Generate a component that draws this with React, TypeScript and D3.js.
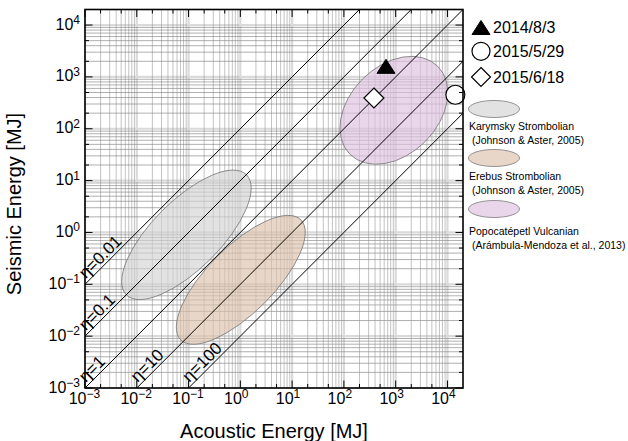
import React from "react";
import * as d3 from "d3";

// eta = acoustic / seismic efficiency ratio lines
const etaValues = [0.01, 0.1, 1, 10, 100];
const etaLabels = ["η=0.01", "η=0.1", "η=1", "η=10", "η=100"];

// observed events
const eventNames = ["2014/8/3", "2015/5/29", "2015/6/18"];
const eventAcoustic = [650, 14200, 380];
const eventSeismic = [1600, 453, 392];
const eventSymbols = ["triangle", "circle", "diamond"];

// eruption type regions (ellipses in log-log space)
const regionNames = ["Karymsky Strombolian", "Erebus Strombolian", "Popocatépetl Vulcanian"];
const regionRefs = [" (Johnson & Aster, 2005)", " (Johnson & Aster, 2005)", " (Arámbula-Mendoza et al., 2013)"];
const regionCenterAcoustic = [0.091, 1.02, 922];
const regionCenterSeismic = [0.9, 0.122, 227];
const regionMajor = [1.64, 1.64, 1.2]; // semi axis, decades
const regionMinor = [0.66, 0.64, 0.855];
const regionAngle = [45, 45, 45];
const regionFill = ["#d2d2d2", "#dcc2ab", "#dec0de"];

const xTickExps = [-3, -2, -1, 0, 1, 2, 3, 4];
const yTickExps = [-3, -2, -1, 0, 1, 2, 3, 4];

const W = 628;
const H = 441;
const left = 85, right = 463, top = 9.5, bottom = 388;
const font = "'Liberation Sans', Arial, Helvetica, sans-serif";

const supText = (e: number) => (e < 0 ? "\u2212" + Math.abs(e) : String(e));

export default function App() {
  const maxV = Math.pow(10, 4.3);
  const x = d3.scaleLog().domain([1e-3, maxV]).range([left, right]);
  const y = d3.scaleLog().domain([1e-3, maxV]).range([bottom, top]);
  const pxDec = x(10) - x(1);

  const gridVals: { v: number; major: boolean }[] = [];
  for (let e = -3; e <= 4; e++) {
    for (let m = 1; m <= 9; m++) {
      const v = m * Math.pow(10, e);
      if (v <= maxV) gridVals.push({ v, major: m === 1 });
    }
  }
  const tickVals: { v: number; major: boolean }[] = [];
  for (let e = -3; e <= 4; e++) {
    [1, 2, 5].forEach((m) => {
      const v = m * Math.pow(10, e);
      if (v <= maxV) tickVals.push({ v, major: m === 1 });
    });
  }

  const line = d3
    .line<[number, number]>()
    .x((d) => x(d[0]))
    .y((d) => y(d[1]));

  const marker = (sym: string, cx: number, cy: number, s: number) => {
    if (sym === "triangle")
      return <path d={`M${cx},${cy - 0.78 * s}L${cx + s},${cy + 0.78 * s}L${cx - s},${cy + 0.78 * s}Z`} fill="#000" stroke="#000" strokeWidth={1} />;
    if (sym === "circle") return <circle cx={cx} cy={cy} r={s} fill="#fff" stroke="#000" strokeWidth={1.2} />;
    return <path d={`M${cx},${cy - s}L${cx + s},${cy}L${cx},${cy + s}L${cx - s},${cy}Z`} fill="#fff" stroke="#000" strokeWidth={1.2} />;
  };

  const legendMarkerY = [27.5, 51.3, 77];
  const legendSwatchY = [109, 158, 209];
  const legendTextY = [129.5, 179.5, 234.5];

  return (
    <svg width={W} height={H} style={{ position: "absolute", left: 0, top: 0, background: "#fff" }} fontFamily={font}>
      <defs>
        <clipPath id="plotClip">
          <rect x={left} y={top} width={right - left} height={bottom - top} />
        </clipPath>
      </defs>
      <rect width={W} height={H} fill="#fff" />

      {/* grid */}
      <g>
        {gridVals.filter((d) => d.major).map((d, i) => (
          <g key={"M" + i}>
            <line x1={x(d.v)} x2={x(d.v)} y1={top} y2={bottom} stroke="#dadada" strokeWidth={2.2} />
            <line x1={left} x2={right} y1={y(d.v)} y2={y(d.v)} stroke="#dadada" strokeWidth={2.2} />
          </g>
        ))}
        {gridVals.filter((d) => !d.major).map((d, i) => (
          <g key={"m" + i}>
            <line x1={x(d.v)} x2={x(d.v)} y1={top} y2={bottom} stroke="#9a9a9a" strokeWidth={0.6} />
            <line x1={left} x2={right} y1={y(d.v)} y2={y(d.v)} stroke="#7a7a7a" strokeWidth={0.6} />
          </g>
        ))}
      </g>

      {/* regions */}
      <g clipPath="url(#plotClip)">
        {regionNames.map((n, i) => (
          <ellipse
            key={n}
            cx={0}
            cy={0}
            rx={regionMajor[i] * pxDec}
            ry={regionMinor[i] * pxDec}
            transform={`translate(${x(regionCenterAcoustic[i])},${y(regionCenterSeismic[i])}) rotate(${-regionAngle[i]})`}
            fill={regionFill[i]}
            fillOpacity={0.65}
            stroke="#7a7a7a"
            strokeWidth={0.8}
          />
        ))}
      </g>

      {/* eta lines */}
      <g clipPath="url(#plotClip)">
        {etaValues.map((eta) => (
          <path
            key={eta}
            d={line([
              [1e-4, 1e-4 / eta],
              [1e6, 1e6 / eta],
            ]) as string}
            fill="none"
            stroke="#000"
            strokeWidth={1}
          />
        ))}
      </g>
      {etaValues.map((eta, i) => {
        const ex = eta <= 1 ? 1e-3 : 1e-3 * eta;
        const ey = ex / eta;
        return (
          <text
            key={"l" + eta}
            transform={`translate(${x(ex)},${y(ey)}) rotate(-45)`}
            x={4}
            y={-3}
            fontSize={17}
            fill="#000"
          >
            {etaLabels[i]}
          </text>
        );
      })}

      {/* events */}
      {eventNames.map((n, i) => (
        <g key={n}>{marker(eventSymbols[i], x(eventAcoustic[i]), y(eventSeismic[i]), eventSymbols[i] === "triangle" ? 9 : eventSymbols[i] === "circle" ? 9.5 : 10)}</g>
      ))}

      {/* frame and ticks */}
      <g stroke="#000">
        {tickVals.map((d, i) => {
          const len = d.major ? 7.5 : 4;
          return (
            <g key={"t" + i} strokeWidth={1}>
              <line x1={x(d.v)} x2={x(d.v)} y1={bottom} y2={bottom - len} />
              <line x1={x(d.v)} x2={x(d.v)} y1={top} y2={top + len} />
              <line x1={left} x2={left + len} y1={y(d.v)} y2={y(d.v)} />
              <line x1={right} x2={right - len} y1={y(d.v)} y2={y(d.v)} />
            </g>
          );
        })}
        <rect x={left} y={top} width={right - left} height={bottom - top} fill="none" strokeWidth={1.6} />
      </g>

      {/* tick labels */}
      {xTickExps.map((e) => (
        <g key={"xl" + e} fill="#000">
          <text x={x(Math.pow(10, e)) + 1.5} y={bottom + 16} fontSize={16} textAnchor="end">10</text>
          <text x={x(Math.pow(10, e)) + 1.5} y={bottom + 9.5} fontSize={12}>{supText(e)}</text>
        </g>
      ))}
      {yTickExps.map((e) => (
        <text key={"yl" + e} x={80} y={y(Math.pow(10, e)) + 4.5} fontSize={16} textAnchor="end" fill="#000">
          <tspan>10</tspan>
          <tspan dy={-5.5} fontSize={12}>{supText(e)}</tspan>
        </text>
      ))}

      {/* axis titles */}
      <text x={274} y={438} fontSize={20} textAnchor="middle" fill="#000">Acoustic Energy [MJ]</text>
      <text transform="translate(21,204) rotate(-90)" fontSize={20} textAnchor="middle" fill="#000">Seismic Energy [MJ]</text>

      {/* legend */}
      {eventNames.map((n, i) => (
        <g key={"le" + n}>
          {marker(eventSymbols[i], 481, legendMarkerY[i], eventSymbols[i] === "triangle" ? 9 : eventSymbols[i] === "circle" ? 9 : 9.5)}
          <text x={493} y={legendMarkerY[i] + 5.8} fontSize={16} fill="#000">{n}</text>
        </g>
      ))}
      {regionNames.map((n, i) => (
        <g key={"lr" + n}>
          <ellipse cx={494} cy={legendSwatchY[i]} rx={25.5} ry={8.5} fill={regionFill[i]} fillOpacity={0.65} stroke="#7a7a7a" strokeWidth={0.8} />
          <text x={469} y={legendTextY[i]} fontSize={10.5} fill="#000">{n}</text>
          <text x={469} y={legendTextY[i] + 14} fontSize={10.5} fill="#000" style={{ whiteSpace: "pre" }}>{regionRefs[i]}</text>
        </g>
      ))}
    </svg>
  );
}
